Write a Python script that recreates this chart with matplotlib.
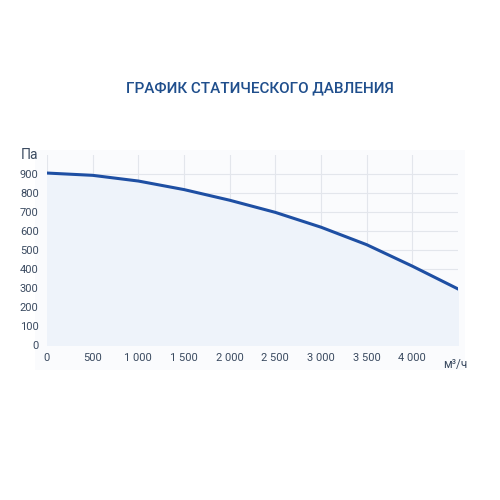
import matplotlib.pyplot as plt

flow = [0, 500, 1000, 1500, 2000, 2500, 3000, 3500, 4000, 4500]
pressure = [905, 893, 863, 818, 762, 698, 620, 528, 415, 295]
x_ticks = [0, 500, 1000, 1500, 2000, 2500, 3000, 3500, 4000]
x_labels = ['0', '500', '1 000', '1 500', '2 000', '2 500', '3 000', '3 500', '4 000']
y_ticks = list(range(0, 1000, 100))

plt.rcParams['font.family'] = ['Roboto', 'DejaVu Sans']

fig = plt.figure(figsize=(5, 5), dpi=100)
# faint panel behind the chart
bg = fig.add_axes([0.07, 0.26, 0.86, 0.44])
bg.set_facecolor('#fafbfd')
bg.set_xticks([])
bg.set_yticks([])
for s in bg.spines.values():
    s.set_visible(False)

ax = fig.add_axes([0.094, 0.31, 0.822, 0.38])
ax.set_facecolor('none')
ax.fill_between(flow, pressure, 0, color='#eef3fa')
ax.plot(flow, pressure, color='#1e4fa3', linewidth=2.2)
ax.set_xlim(0, 4500)
ax.set_ylim(0, 1000)
ax.set_xticks(x_ticks)
ax.set_xticklabels(x_labels)
ax.set_yticks(y_ticks)
ax.tick_params(length=0, labelsize=8, colors='#3a4a60', pad=6)
ax.grid(color='#e3e6ec', linewidth=0.8)
ax.set_axisbelow(True)
for s in ax.spines.values():
    s.set_visible(False)
ax.text(-0.065, 1.0, 'Па', transform=ax.transAxes, fontsize=10, color='#3a4a60', va='center')
ax.text(0.965, -0.07, 'м³/ч', transform=ax.transAxes, fontsize=8.5, color='#3a4a60', va='top', ha='left')
fig.text(0.52, 0.823, 'ГРАФИК СТАТИЧЕСКОГО ДАВЛЕНИЯ', ha='center', va='center',
         fontsize=11, color='#1f4e8c', fontweight='medium')
fig.savefig('out.png', dpi=100)
